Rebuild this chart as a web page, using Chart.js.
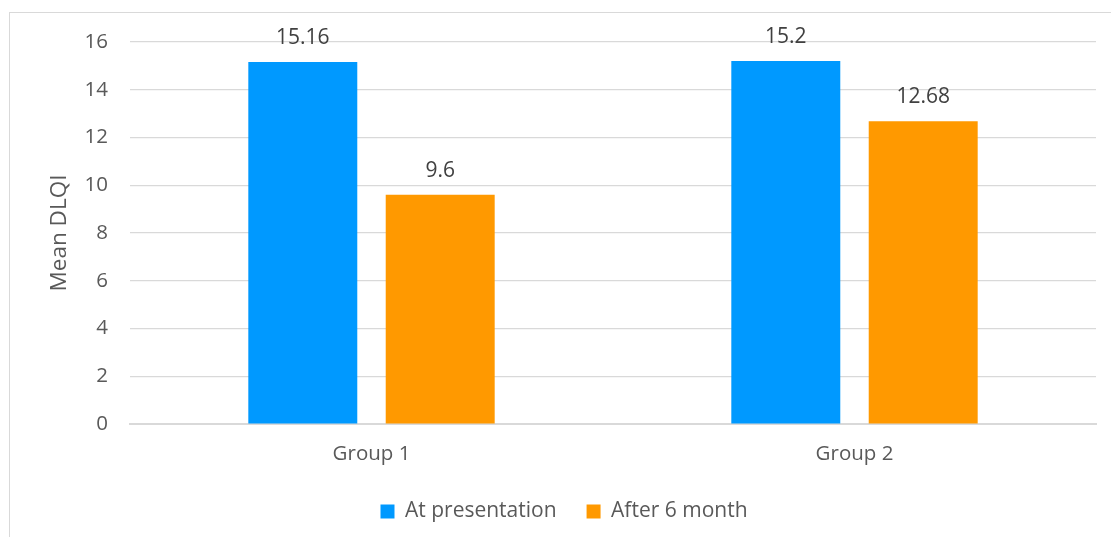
<!DOCTYPE html>
<html>
<head>
<meta charset="utf-8">
<script src="https://cdn.jsdelivr.net/npm/chart.js@4/dist/chart.umd.min.js"></script>
<style>
	html, body { margin: 0; padding: 0; background: #fff; }
	#wrap { width: 1111px; height: 537px; }
</style>
</head>
<body>
<div id="wrap"><canvas id="graficaDLQI"></canvas></div>
<script>
const categorias = ['Group 1', 'Group 2'];
const alPresentar = [15.16, 15.2];
const despues6Meses = [9.6, 12.68];
const ticksY = [0, 2, 4, 6, 8, 10, 12, 14, 16];

const fuente = "'Open Sans', 'Liberation Sans', sans-serif";

// marco gris alrededor del grafico y etiquetas encima de las barras
const marcoYEtiquetas = {
	id: 'marcoYEtiquetas',
	afterLayout(chart) {
		// la leyenda del original esta algo corrida a la derecha
		chart.legend.left += 16;
		chart.legend.right += 16;
	},
	beforeDraw(chart) {
		const ctx = chart.ctx;
		ctx.save();
		ctx.strokeStyle = '#d9d9d9';
		ctx.lineWidth = 1;
		ctx.strokeRect(9.5, 12.5, 1200, 600);
		ctx.restore();
	},
	afterDatasetsDraw(chart) {
		const ctx = chart.ctx;
		ctx.save();
		ctx.font = '21px ' + fuente;
		ctx.fillStyle = '#404040';
		ctx.textAlign = 'center';
		ctx.textBaseline = 'middle';
		chart.data.datasets.forEach((ds, i) => {
			chart.getDatasetMeta(i).data.forEach((bar, j) => {
				ctx.fillText(String(ds.data[j]), bar.x, bar.y - 24);
			});
		});
		ctx.restore();
	}
};

new Chart(document.getElementById('graficaDLQI'), {
	type: 'bar',
	data: {
		labels: categorias,
		datasets: [{
			label: 'At presentation',
			data: alPresentar,
			backgroundColor: '#0099ff',
			categoryPercentage: 0.569,
			barPercentage: 0.793
		}, {
			label: 'After 6 month',
			data: despues6Meses,
			backgroundColor: '#ff9900',
			categoryPercentage: 0.569,
			barPercentage: 0.793
		}]
	},
	options: {
		responsive: true,
		maintainAspectRatio: false,
		animation: false,
		layout: { padding: { left: 0, right: 15, top: 42, bottom: 5 } },
		plugins: {
			legend: {
				position: 'bottom',
				labels: {
					boxWidth: 14,
					boxHeight: 14,
					padding: 30,
					color: '#595959',
					font: { family: fuente, size: 21 }
				}
			},
			tooltip: { enabled: false }
		},
		scales: {
			x: {
				grid: { display: false, drawTicks: false },
				border: { color: '#d9d9d9', width: 2 },
				ticks: { color: '#595959', padding: 18, font: { family: fuente, size: 20.5 } },
				afterFit(scale) { scale.height = 47; }
			},
			y: {
				min: 0,
				max: 16,
				afterBuildTicks(scale) { scale.ticks = ticksY.map(v => ({ value: v })); },
				grid: { color: '#d9d9d9', lineWidth: 1.2, drawTicks: false },
				border: { display: false },
				ticks: { color: '#595959', padding: 22, font: { family: fuente, size: 20.5 } },
				title: {
					display: true,
					text: 'Mean DLQI',
					color: '#595959',
					font: { family: fuente, size: 22.5 },
					padding: { top: 46, bottom: 0 }
				},
				afterFit(scale) { scale.width = 130; }
			}
		}
	},
	plugins: [marcoYEtiquetas]
});
</script>
</body>
</html>
